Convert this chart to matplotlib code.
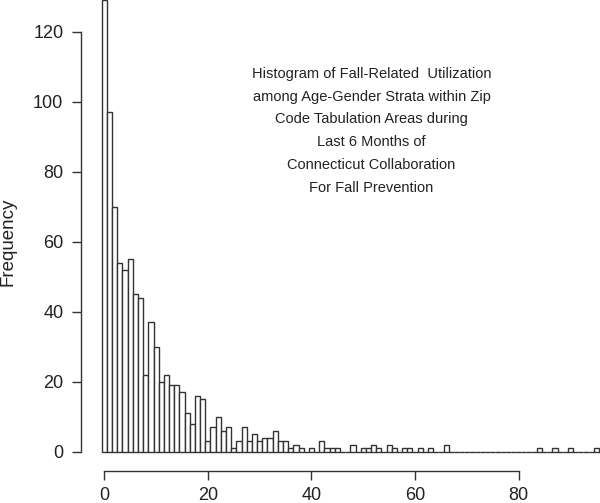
import numpy as np
import matplotlib
matplotlib.use("Agg")
import matplotlib.pyplot as plt

plt.rcParams['font.family'] = ['Liberation Sans', 'DejaVu Sans']

# counts per unit bin, bins centred on 0, 1, 2, ...
counts = [129, 97, 70, 54, 52, 55, 45, 44, 22, 37,
          30, 20, 22, 19, 19, 17, 11, 8, 16, 15,
          3, 7, 10, 6, 7, 1, 3, 7, 3, 5,
          3, 4, 4, 6, 3, 3, 1, 2, 1, 0,
          1, 0, 3, 1, 1, 1, 0, 0, 2, 0,
          1, 1, 2, 1, 0, 2, 1, 0, 1, 1,
          0, 1, 0, 1, 0, 0, 2, 0, 0, 0,
          0, 0, 0, 0, 0, 0, 0, 0, 0, 0,
          0, 0, 0, 0, 1, 0, 0, 1, 0, 0,
          1, 0, 0, 0, 0, 1, 0]
xticks = [0, 20, 40, 60, 80]
yticks = [0, 20, 40, 60, 80, 100, 120]
title = ("Histogram of Fall-Related  Utilization\n"
         "among Age-Gender Strata within Zip\n"
         "Code Tabulation Areas during\n"
         "Last 6 Months of\n"
         "Connecticut Collaboration\n"
         "For Fall Prevention")

ink = '#333333'
fig = plt.figure(figsize=(6.0, 5.03), dpi=100)
ax = fig.add_axes([81 / 600, (503 - 470.7) / 503, 519 / 600, 470.7 / 503])

centers = np.arange(len(counts))
ax.bar(centers, counts, width=1.0, facecolor='white', edgecolor=ink,
       linewidth=1.0)

ax.set_xlim(-4.5, 95.7)
ax.set_ylim(-5.43, 129.06)

for s in ['top', 'right']:
    ax.spines[s].set_visible(False)
ax.spines['left'].set_bounds(0, 120)
ax.spines['bottom'].set_bounds(0, 80)
for s in ['left', 'bottom']:
    ax.spines[s].set_color(ink)
    ax.spines[s].set_linewidth(1.0)

ax.set_xticks(xticks)
ax.set_yticks(yticks)
ax.tick_params(axis='both', direction='out', length=6.2, width=1.0,
               color=ink, labelcolor='#222222', labelsize=13)
ax.tick_params(axis='y', pad=6.5)
ax.tick_params(axis='x', pad=5.5)
ax.set_ylabel('Frequency', fontsize=13.5, color='#222222')
ax.yaxis.set_label_coords(-0.125, (0 + 5.43 + 60) / (129.06 + 5.43))

ax.text(51.6, 91.7, title, ha='center', va='center', fontsize=10.5,
        color='#222222', linespacing=1.8)

fig.savefig('out.png', dpi=100)
